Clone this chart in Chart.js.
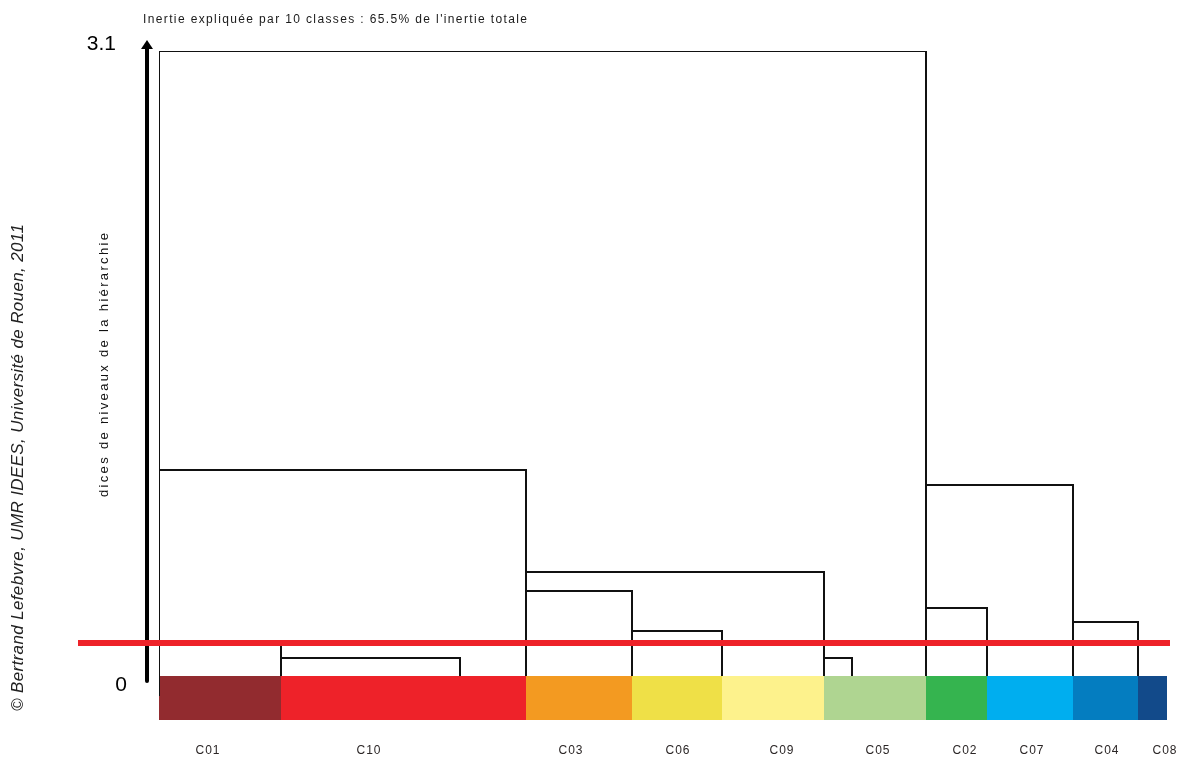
<!DOCTYPE html>
<html>
<head>
<meta charset="utf-8">
<title>Dendrogramme CAH</title>
<script src="https://cdn.jsdelivr.net/npm/chart.js@4/dist/chart.umd.min.js"></script>
<style>
  html, body { margin:0; padding:0; background:#fff; }
  #wrap { width:1178px; height:758px; position:relative; }
</style>
</head>
<body>
<div id="wrap"><canvas id="dendro"></canvas></div>
<script>
/* Dendrogramme des 10 classes (CAH) */

// classes, dans l'ordre des feuilles
const CLASSES      = ['C01','C10','C03','C06','C09','C05','C02','C07','C04','C08'];
const CLASS_SIZES  = [122, 245, 106, 90, 102, 102, 61, 86, 65, 29];
const CLASS_COLORS = ['#922b2f','#ee2229','#f39a21','#efe047','#fdf28c','#afd591','#35b44f','#00aeef','#047dc0','#124a8a'];
const LABEL_AT     = [49, 210, 412, 519, 623, 719, 806, 873, 948, 1006];

// liens : abscisse gauche / droite, niveau, pieds des deux jambes
const LINK_LEFT   = [0,     0,     0,     122,   367,   367,   473,   665,   767,   767,   914];
const LINK_RIGHT  = [767,   367,   122,   301,   665,   473,   563,   693,   914,   828,   979];
const LINK_LEVEL  = [3.1,   1.022, 0.168, 0.089, 0.516, 0.422, 0.223, 0.089, 0.947, 0.337, 0.268];
const FOOT_LEFT   = [1.022, 0.168, -0.099, 0,    0.422, 0,     0,     0,     0.337, 0,     0];
const FOOT_RIGHT  = [0.947, 0.516, 0.089, 0,     0.089, 0.223, 0,     0,     0.268, 0,     0];

const CUT_LEVEL = 0.164;
const CUT_FROM  = -81, CUT_TO = 1011;
const Y_MIN = -0.218, Y_MAX = 3.1;
const Y_TICKS = [3.1, 0];

const TITLE   = "Inertie expliquée par 10 classes : 65.5% de l'inertie totale";
const Y_TITLE = 'dices de niveaux de la hiérarchie';
const CREDIT  = '© Bertrand Lefebvre, UMR IDEES, Université de Rouen, 2011';

const FONT = '"Liberation Sans", Arial, sans-serif';

// bandes colorées des classes
const cum = [0];
CLASS_SIZES.forEach((s,i)=>cum.push(cum[i]+s));
const bandSets = CLASSES.map((c,i)=>({
  label: c,
  data: [{x:cum[i], y:0}, {x:cum[i+1], y:0}],
  borderWidth: 0, borderColor: 'rgba(0,0,0,0)',
  backgroundColor: CLASS_COLORS[i],
  fill: 'start', pointRadius: 0, order: 3,
}));

// branches du dendrogramme
const linkSets = LINK_LEVEL.map((h,i)=>({
  label: 'lien' + i,
  data: [
    {x:LINK_LEFT[i],  y:FOOT_LEFT[i]},
    {x:LINK_LEFT[i],  y:h},
    {x:LINK_RIGHT[i], y:h},
    {x:LINK_RIGHT[i], y:FOOT_RIGHT[i]},
  ],
  borderColor: '#111', borderWidth: 2, pointRadius: 0,
  fill: false, tension: 0, order: 2,
}));

const cutSet = {
  label: 'coupure',
  data: [{x:CUT_FROM, y:CUT_LEVEL}, {x:CUT_TO, y:CUT_LEVEL}],
  borderColor: '#ee2229', borderWidth: 6, pointRadius: 0,
  fill: false, clip: false, order: 0,
};

function spacedText(ctx, txt, x, y, width){
  ctx.letterSpacing = '0px';
  const w = ctx.measureText(txt).width;
  const sp = width ? Math.max(0, (width - w) / (txt.length - 1)) : 0;
  ctx.letterSpacing = sp.toFixed(2) + 'px';
  ctx.fillText(txt, x, y);
  ctx.letterSpacing = '0px';
}

const axisArrow = {
  id: 'axisArrow',
  beforeDatasetsDraw(chart){
    const {ctx, scales:{x, y}} = chart;
    const ax = x.getPixelForValue(-12);
    const y0 = y.getPixelForValue(0) + 5;
    const y1 = y.getPixelForValue(Y_MAX) - 2;
    ctx.save();
    ctx.strokeStyle = '#000'; ctx.fillStyle = '#000';
    ctx.lineWidth = 4; ctx.lineCap = 'round';
    ctx.beginPath(); ctx.moveTo(ax, y0); ctx.lineTo(ax, y1); ctx.stroke();
    ctx.beginPath();
    ctx.moveTo(ax, y1 - 9);
    ctx.lineTo(ax + 6, y1);
    ctx.lineTo(ax - 6, y1);
    ctx.closePath(); ctx.fill();
    ctx.restore();
  }
};

const texts = {
  id: 'texts',
  afterDraw(chart){
    const {ctx, scales:{x, y}, chartArea} = chart;
    ctx.save();
    ctx.fillStyle = '#1a1a1a';
    ctx.textBaseline = 'middle';

    // titre
    ctx.font = '12px ' + FONT;
    ctx.textAlign = 'left';
    spacedText(ctx, TITLE, 143, 20, 384);

    // valeurs de l'axe
    ctx.fillStyle = '#000';
    ctx.font = '21px ' + FONT;
    ctx.textAlign = 'right';
    ctx.fillText(String(Y_TICKS[0]), 116, y.getPixelForValue(Y_TICKS[0]) - 7);
    ctx.fillText(String(Y_TICKS[1]), 127, y.getPixelForValue(Y_TICKS[1]) + 9);

    // libellés des classes
    ctx.fillStyle = '#2b2626';
    ctx.font = '12px ' + FONT;
    ctx.textAlign = 'center';
    CLASSES.forEach((c,i)=>{
      ctx.letterSpacing = '1px';
      ctx.fillText(c, x.getPixelForValue(LABEL_AT[i]), chartArea.bottom + 31);
    });
    ctx.letterSpacing = '0px';

    // titre vertical
    ctx.save();
    ctx.translate(104, 365);
    ctx.rotate(-Math.PI/2);
    ctx.font = '13px ' + FONT;
    ctx.fillStyle = '#111';
    ctx.textAlign = 'left';
    spacedText(ctx, Y_TITLE, -132, 0, 264);
    ctx.restore();

    // crédit
    ctx.save();
    ctx.translate(18, 468);
    ctx.rotate(-Math.PI/2);
    ctx.font = 'italic 17px ' + FONT;
    ctx.fillStyle = '#222';
    ctx.textAlign = 'left';
    spacedText(ctx, CREDIT, -243, 0, 487);
    ctx.restore();

    ctx.restore();
  }
};

new Chart(document.getElementById('dendro'), {
  type: 'line',
  data: { datasets: [cutSet, ...linkSets, ...bandSets] },
  options: {
    responsive: true,
    maintainAspectRatio: false,
    animation: false,
    parsing: true,
    layout: { padding: { left:159, right:10, top:51, bottom:38 } },
    scales: {
      x: { type:'linear', min:0, max:1009, display:false },
      y: { type:'linear', min:Y_MIN, max:Y_MAX, display:false },
    },
    plugins: {
      legend: { display:false },
      tooltip: { enabled:false },
    },
  },
  plugins: [axisArrow, texts],
});
</script>
</body>
</html>
